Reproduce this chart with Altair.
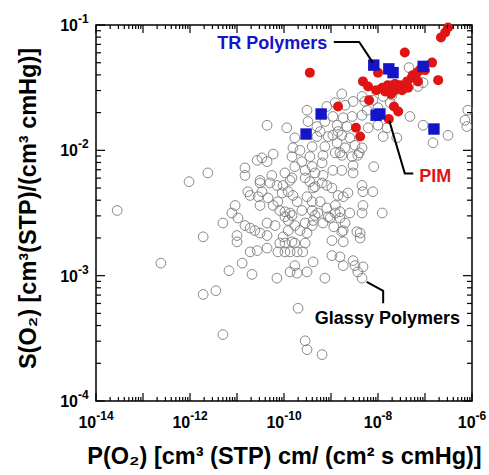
import altair as alt
import pandas as pd

FONT = "Liberation Sans"

# (log10 P(O2), log10 S(O2))
GLASSY_PTS = [
    (-13.55, -2.48), (-12.02, -2.25), (-11.62, -2.18), (-12.62, -2.90), (-11.72, -2.69),
    (-11.30, -2.58), (-11.72, -3.15), (-11.45, -3.12), (-11.30, -3.47), (-9.70, -3.26),
    (-9.55, -3.52), (-9.51, -3.59), (-9.19, -3.63), (-11.17, -2.96), (-10.89, -2.90),
    (-10.68, -2.99), (-11.04, -2.44), (-11.11, -2.50), (-10.98, -2.54), (-10.83, -2.60),
    (-10.72, -2.62), (-10.62, -2.64), (-10.51, -2.66), (-10.36, -2.68), (-11.00, -2.68),
    (-11.00, -2.73), (-10.72, -2.81), (-10.57, -2.80), (-10.36, -2.78), (-10.36, -2.58),
    (-10.19, -2.60), (-9.98, -2.53), (-9.91, -2.56), (-9.83, -2.52), (-9.77, -2.60),
    (-9.55, -2.58), (-9.40, -2.60), (-9.34, -2.52), (-9.17, -2.58), (-9.06, -2.53),
    (-8.91, -2.50), (-8.81, -2.54), (-8.70, -2.58), (-8.34, -2.50), (-8.77, -2.65),
    (-8.98, -2.72), (-8.74, -2.73), (-8.45, -2.65), (-8.38, -2.66), (-10.09, -2.74),
    (-9.98, -2.74), (-9.83, -2.73), (-9.77, -2.74), (-9.55, -2.74), (-10.13, -2.81),
    (-9.98, -2.81), (-9.87, -2.81), (-9.72, -2.81), (-9.60, -2.81), (-9.77, -2.92),
    (-9.87, -2.97), (-9.72, -2.98), (-9.38, -2.89), (-9.51, -2.97), (-8.98, -2.84),
    (-8.81, -2.85), (-8.74, -2.92), (-8.53, -2.88), (-8.49, -2.92), (-8.43, -2.97),
    (-8.34, -3.02), (-10.15, -3.02), (-9.13, -3.02), (-10.02, -2.69), (-9.91, -2.64),
    (-9.66, -2.64), (-9.51, -2.66), (-9.38, -2.56), (-8.32, -2.93), (-8.74, -2.64),
    (-8.94, -2.61), (-8.38, -2.70),
    (-9.51, -1.68), (-9.09, -1.65), (-10.36, -1.80), (-9.94, -1.82), (-9.77, -1.90),
    (-9.49, -1.77), (-9.30, -1.81), (-9.13, -1.77), (-9.30, -1.89), (-9.06, -1.89),
    (-8.85, -1.85), (-9.13, -1.97), (-9.17, -2.04), (-9.40, -1.97), (-9.45, -2.05),
    (-9.66, -2.00), (-9.81, -1.98), (-9.83, -2.05), (-10.23, -2.03), (-10.47, -2.06),
    (-10.57, -2.08), (-10.36, -2.09), (-9.62, -2.09), (-9.77, -2.13), (-9.40, -2.13),
    (-9.19, -2.10), (-8.91, -2.02), (-8.77, -2.04), (-8.55, -2.05), (-8.53, -2.12),
    (-8.53, -2.18), (-8.34, -1.98), (-8.77, -2.16), (-8.09, -2.13), (-10.83, -2.14),
    (-10.83, -2.20), (-10.77, -2.33), (-10.51, -2.26), (-10.47, -2.33), (-10.26, -2.20),
    (-10.30, -2.26), (-10.15, -2.28), (-9.98, -2.18), (-9.83, -2.22), (-9.55, -2.16),
    (-9.55, -2.22), (-9.45, -2.25), (-9.34, -2.18), (-9.17, -2.20), (-9.19, -2.26),
    (-9.09, -2.28), (-8.98, -2.30), (-8.85, -2.36), (-8.74, -2.37), (-8.64, -2.34),
    (-8.34, -2.28), (-8.32, -2.33), (-8.11, -2.33), (-10.55, -2.37), (-10.51, -2.44),
    (-10.72, -2.36), (-10.34, -2.38), (-10.13, -2.41), (-9.91, -2.33), (-9.81, -2.36),
    (-9.72, -2.41), (-9.51, -2.37), (-9.40, -2.41), (-9.34, -2.29), (-9.98, -2.49),
    (-9.87, -2.50), (-9.62, -2.48), (-9.40, -2.48), (-9.28, -2.50), (-9.09, -2.46),
    (-8.91, -2.44), (-8.81, -2.49), (-8.60, -2.50), (-7.91, -2.50), (-8.32, -2.44),
    (-10.23, -2.44), (-10.09, -2.48), (-8.40, -2.02), (-9.38, -2.30), (-9.23, -2.41),
    (-9.02, -2.54), (-10.02, -2.28), (-10.04, -2.34), (-9.87, -2.24), (-10.51, -2.24),
    (-8.96, -2.16), (-9.23, -1.85), (-8.23, -1.68),
    (-7.34, -1.34), (-7.15, -1.49), (-7.04, -1.46), (-7.38, -1.49), (-8.77, -1.55),
    (-8.53, -1.61), (-8.34, -1.57), (-8.11, -1.60), (-7.89, -1.57), (-7.70, -1.56),
    (-7.74, -1.62), (-8.00, -1.66), (-8.91, -1.62), (-8.70, -1.64), (-8.55, -1.73),
    (-8.34, -1.72), (-8.74, -1.74), (-8.96, -1.73), (-8.87, -1.80), (-8.66, -1.81),
    (-8.96, -1.88), (-8.77, -1.88), (-8.60, -1.90), (-8.87, -1.94), (-8.70, -1.98),
    (-8.81, -2.02), (-8.49, -1.96), (-8.43, -2.04), (-8.21, -1.82), (-8.00, -1.80),
    (-7.81, -1.82), (-7.89, -1.89), (-7.60, -1.90), (-7.32, -1.73), (-7.04, -1.80),
    (-6.51, -1.88), (-6.83, -1.94), (-6.15, -1.76), (-6.11, -1.81), (-6.09, -1.68),
    (-8.28, -1.61),
]

PIM_PTS = [
    (-6.51, -1.02), (-6.57, -1.06), (-6.66, -1.10), (-7.43, -1.22), (-6.85, -1.30),
    (-9.45, -1.38), (-8.00, -1.38), (-6.72, -1.44), (-8.32, -1.45), (-8.21, -1.49),
    (-7.91, -1.50), (-7.79, -1.48), (-7.64, -1.47), (-7.53, -1.48), (-7.38, -1.45),
    (-7.28, -1.42), (-7.17, -1.38), (-7.11, -1.36), (-7.26, -1.40), (-7.64, -1.52),
    (-7.36, -1.50), (-7.15, -1.45), (-8.19, -1.60), (-8.85, -1.65), (-7.66, -1.65),
    (-7.57, -1.69), (-7.77, -1.75), (-8.47, -1.82), (-8.38, -1.89), (-7.85, -1.53),
    (-7.49, -1.52), (-7.00, -1.36), (-7.72, -1.55), (-8.04, -1.52),
]

TR_PTS = [
    (-8.09, -1.32), (-7.77, -1.35), (-7.68, -1.38), (-7.04, -1.33), (-9.21, -1.71),
    (-8.04, -1.72), (-7.96, -1.71), (-9.53, -1.87), (-6.81, -1.83),
]

LABELS = ["TR Polymers", "PIM", "Glassy Polymers"]
LABEL_COLORS = ["#1414c8", "#e01414", "#000000"]
LABEL_LOGP = [-10.25, -6.78, -7.80]
LABEL_LOGS = [-1.152, -2.209, -3.346]

# leader lines (group, log10 P, log10 S)
LEADERS = [
    ("TR", -8.94, -1.136), ("TR", -8.40, -1.136), ("TR", -8.11, -1.30),
    ("PIM", -7.76, -1.764), ("PIM", -7.43, -2.184), ("PIM", -7.25, -2.184),
    ("GL", -8.24, -3.049), ("GL", -7.89, -3.121), ("GL", -7.89, -3.221),
]

X_LABEL_EXP = [-14, -12, -10, -8, -6]
Y_LABEL_EXP = [-4, -3, -2, -1]
X_TITLE = "P(O\u2082) [cm\u00b3 (STP) cm/ (cm\u00b2 s cmHg)]"
Y_TITLE = "S(O\u2082) [cm\u00b3(STP)/(cm\u00b3 cmHg)]"

X_MAJOR = [10.0 ** e for e in range(-14, -5)]
X_MINOR = [m * 10.0 ** e for e in range(-14, -6) for m in range(2, 10)]
Y_MAJOR = [10.0 ** e for e in range(-4, 0)]
Y_MINOR = [m * 10.0 ** e for e in range(-4, -1) for m in range(2, 10)]

W = 376
H = 376
BASE_FS = 16
EXP_FS = 12
TITLE_FS = 23.5

xs = alt.Scale(type="log", domain=[1e-14, 1e-6], nice=False)
ys = alt.Scale(type="log", domain=[1e-4, 1e-1], nice=False)

xaxis = alt.Axis(
    labels=False, ticks=False, tickSize=0, domain=False, grid=False,
    titleFont=FONT, titleFontSize=TITLE_FS, titleFontWeight="bold", titleColor="black",
    titleBaseline="alphabetic", titleY=62,
)
yaxis = alt.Axis(
    labels=False, ticks=False, tickSize=0, domain=False, grid=False,
    titleFont=FONT, titleFontSize=TITLE_FS, titleFontWeight="bold", titleColor="black",
    titleBaseline="alphabetic", titleX=-61, titleY=183, titleAngle=270,
    titleAlign="center",
)


def pts_df(pts):
    return pd.DataFrame({"P": [10.0 ** p for p, s in pts], "S": [10.0 ** s for p, s in pts]})


def X(**kw):
    return alt.X("P:Q", scale=xs, title=X_TITLE, **kw)


def Y(**kw):
    return alt.Y("S:Q", scale=ys, title=Y_TITLE, **kw)


gray = alt.Chart(pts_df(GLASSY_PTS)).mark_point(
    shape="circle", filled=False, color="#7c7c7c", strokeWidth=0.9, size=95, opacity=1
).encode(x=X(axis=xaxis), y=Y(axis=yaxis))

pim = alt.Chart(pts_df(PIM_PTS)).mark_point(
    shape="circle", filled=True, color="#e01414", size=100, opacity=1
).encode(x=X(), y=Y())

tr = alt.Chart(pts_df(TR_PTS)).mark_point(
    shape="square", filled=True, color="#1414c8", size=130, opacity=1
).encode(x=X(), y=Y())

lead_df = pd.DataFrame({
    "g": [g for g, p, s in LEADERS],
    "i": list(range(len(LEADERS))),
    "P": [10.0 ** p for g, p, s in LEADERS],
    "S": [10.0 ** s for g, p, s in LEADERS],
})
leaders = alt.Chart(lead_df).mark_line(color="black", strokeWidth=2).encode(
    x=X(), y=Y(), detail="g:N", order="i:Q"
)

text_df = pd.DataFrame({
    "label": LABELS, "c": LABEL_COLORS,
    "P": [10.0 ** v for v in LABEL_LOGP], "S": [10.0 ** v for v in LABEL_LOGS],
})
texts = alt.Chart(text_df).mark_text(
    font=FONT, fontSize=18, fontWeight="bold", align="center", baseline="middle"
).encode(x=X(), y=Y(), text="label:N", color=alt.Color("c:N", scale=None))


# tick labels "10" + raised exponent
def x_label_layers():
    layers = []
    for nchar in sorted({len(str(e)) for e in X_LABEL_EXP}):
        exps = [e for e in X_LABEL_EXP if len(str(e)) == nchar]
        df = pd.DataFrame({"P": [10.0 ** e for e in exps], "base": ["10"] * len(exps),
                           "exp": [str(e) for e in exps]})
        # shift so that the whole label is centred on the tick
        w_exp = EXP_FS * (0.333 + 0.556 * (nchar - 1))
        w_base = BASE_FS * 0.556 * 2
        dx = (w_base - w_exp) / 2
        common = dict(font=FONT, fontWeight="bold", baseline="alphabetic", color="black")
        layers.append(alt.Chart(df).mark_text(align="right", dx=dx, fontSize=BASE_FS, **common)
                      .encode(x=X(), y=alt.value(H + 27), text="base:N"))
        layers.append(alt.Chart(df).mark_text(align="left", dx=dx, fontSize=EXP_FS, **common)
                      .encode(x=X(), y=alt.value(H + 19), text="exp:N"))
    return layers


def y_label_layers():
    df = pd.DataFrame({"S": [10.0 ** e for e in Y_LABEL_EXP], "base": ["10"] * len(Y_LABEL_EXP),
                       "exp": [str(e) for e in Y_LABEL_EXP]})
    common = dict(font=FONT, fontWeight="bold", baseline="alphabetic", color="black")
    return [
        alt.Chart(df).mark_text(align="right", dy=6, fontSize=BASE_FS, **common)
        .encode(y=Y(), x=alt.value(-18), text="base:N"),
        alt.Chart(df).mark_text(align="left", dy=-2, fontSize=EXP_FS, **common)
        .encode(y=Y(), x=alt.value(-18), text="exp:N"),
    ]


def xticks(vals, length, top):
    y0 = 0 if top else H
    y1 = length if top else H - length
    return alt.Chart(pd.DataFrame({"P": vals})).mark_rule(color="black", strokeWidth=1.2).encode(
        x=X(), y=alt.value(y0), y2=alt.value(y1)
    )


def yticks(vals, length, right):
    x0 = W if right else 0
    x1 = W - length if right else length
    return alt.Chart(pd.DataFrame({"S": vals})).mark_rule(color="black", strokeWidth=1.2).encode(
        y=Y(), x=alt.value(x0), x2=alt.value(x1)
    )


tick_layers = [
    xticks(X_MAJOR, 8, False), xticks(X_MAJOR, 8, True),
    xticks(X_MINOR, 4, False), xticks(X_MINOR, 4, True),
    yticks(Y_MAJOR, 9, False), yticks(Y_MAJOR, 9, True),
    yticks(Y_MINOR, 5, False), yticks(Y_MINOR, 5, True),
]

chart = alt.layer(
    gray, pim, tr, leaders, texts, *tick_layers, *x_label_layers(), *y_label_layers()
).properties(
    width=W, height=H,
    autosize=alt.AutoSizeParams(type="none"),
    padding={"left": 96, "top": 25, "right": 17, "bottom": 74},
).configure_view(stroke="black", strokeWidth=1.5)

chart.save("out.html", embed_options={"renderer": "svg", "actions": False})
